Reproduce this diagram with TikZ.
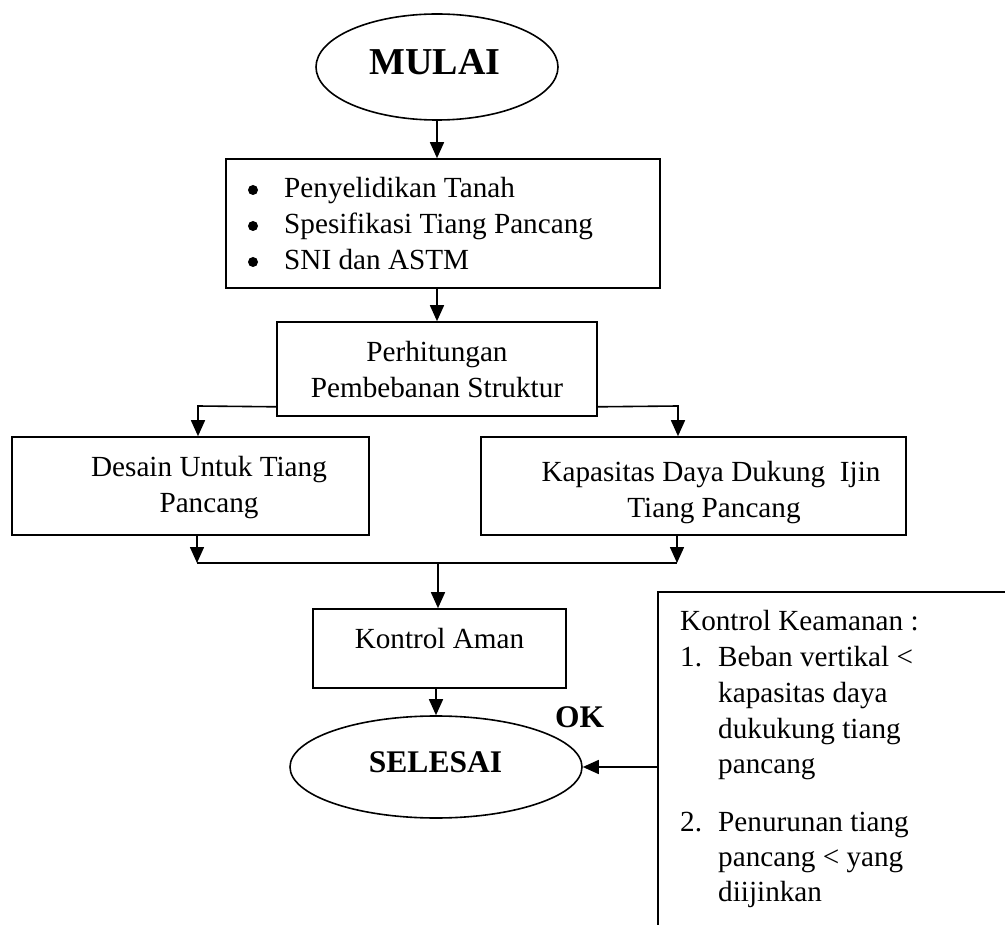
\documentclass[tikz,border=0pt]{standalone}
\usepackage{fontspec}
\setmainfont{Liberation Serif}
\usetikzlibrary{arrows.meta,shapes.geometric}
\tikzset{
  ln/.style={line width=1.6pt},
  arr/.style={ln,-{Triangle[length=16pt,width=14pt]}},
  boxn/.style={draw,ln,rectangle,inner sep=0pt},
  ellnode/.style={draw,ln,ellipse,inner sep=0pt},
  txt/.style={inner sep=0pt,font=\fontsize{29.2}{36}\selectfont},
  btxt/.style={inner sep=0pt,font=\fontsize{31.5}{36}\selectfont\bfseries},
  bul/.style={circle,fill,inner sep=0pt,minimum size=10pt},
}
\begin{document}
\begin{tikzpicture}[x=1pt,y=-1pt]
\useasboundingbox (0,0) rectangle (1005,925);
% nodes
\node[ellnode,minimum width=242pt,minimum height=106pt] (mulai) at (437,67) {};
\node[inner sep=0pt,anchor=base,font=\fontsize{38}{40}\selectfont\bfseries] (tmulai) at (435,75) {MULAI};

\node[boxn,minimum width=434pt,minimum height=129pt] (b1) at (443,223.5) {};
\node[bul] (u1) at (253,190) {};
\node[bul] (u2) at (253,226) {};
\node[bul] (u3) at (253,262) {};
\node[txt,anchor=base west] (t1) at (284,198) {Penyelidikan Tanah};
\node[txt,anchor=base west] (t2) at (284,234) {Spesifikasi Tiang Pancang};
\node[txt,anchor=base west] (t3) at (284,270) {SNI dan ASTM};

\node[boxn,minimum width=320pt,minimum height=94pt] (b2) at (437,369) {};
\node[txt,anchor=base] (t4) at (437,362) {Perhitungan};
\node[txt,anchor=base] (t5) at (437,398) {Pembebanan Struktur};

\node[boxn,minimum width=357pt,minimum height=98pt] (desain) at (190.5,486) {};
\node[txt,anchor=base] (t6) at (209,477) {Desain Untuk Tiang};
\node[txt,anchor=base] (t7) at (209,512) {Pancang};

\node[boxn,minimum width=425pt,minimum height=98pt] (kap) at (693.5,486) {};
\node[txt,anchor=base] (t8) at (711,482) {Kapasitas Daya Dukung\ \ Ijin};
\node[txt,anchor=base] (t9) at (714,517) {Tiang Pancang};

\node[boxn,minimum width=253pt,minimum height=79pt] (ka) at (439.5,648.5) {};
\node[txt,anchor=base] (t10) at (439.5,648) {Kontrol Aman};

\node[ellnode,minimum width=292pt,minimum height=102pt] (selesai) at (436,767) {};
\node[btxt,anchor=base] (tsel) at (435.5,772) {SELESAI};
\node[btxt,anchor=base west] (ok) at (555,727) {OK};

% right open box
\coordinate (rtop) at (1005,592);
\coordinate (rcorner) at (658,592);
\coordinate (rbot) at (658,925);
\draw[ln] (rtop) -- (rcorner) -- (rbot);
\coordinate (rmid) at (658,767);
\node[txt,anchor=base west] (k0) at (680,630) {Kontrol Keamanan :};
\node[txt,anchor=base west] (n1) at (680,666) {1.};
\node[txt,anchor=base west] (k1) at (718,666) {Beban vertikal <};
\node[txt,anchor=base west] (k2) at (718,702) {kapasitas daya};
\node[txt,anchor=base west] (k3) at (718,738) {dukukung tiang};
\node[txt,anchor=base west] (k4) at (718,773) {pancang};
\node[txt,anchor=base west] (n2) at (680,831) {2.};
\node[txt,anchor=base west] (k5) at (718,831) {Penurunan tiang};
\node[txt,anchor=base west] (k6) at (718,866) {pancang < yang};
\node[txt,anchor=base west] (k7) at (718,901) {diijinkan};

% connectors
\draw[arr] (mulai.south) -- (mulai.south |- b1.north);
\draw[arr] (b2.north |- b1.south) -- (b2.north);
\coordinate (lt) at (198,406);
\coordinate (rt) at (678,406);
\draw[arr] ([yshift=10pt]b2.south west) -- (lt) -- (lt |- desain.north);
\draw[arr] ([yshift=10pt]b2.south east) -- (rt) -- (rt |- kap.north);
\coordinate (jl) at (197,563);
\coordinate (jr) at (677,563);
\coordinate (jm) at (438,563);
\draw[arr] (jl |- desain.south) -- (jl);
\draw[arr] (jr |- kap.south) -- (jr);
\draw[ln] (jl) -- (jr);
\draw[arr] (jm) -- (jm |- ka.north);
\draw[arr] (selesai.north |- ka.south) -- (selesai.north);
\draw[arr] (rmid) -- (selesai.east);
\end{tikzpicture}
\end{document}
